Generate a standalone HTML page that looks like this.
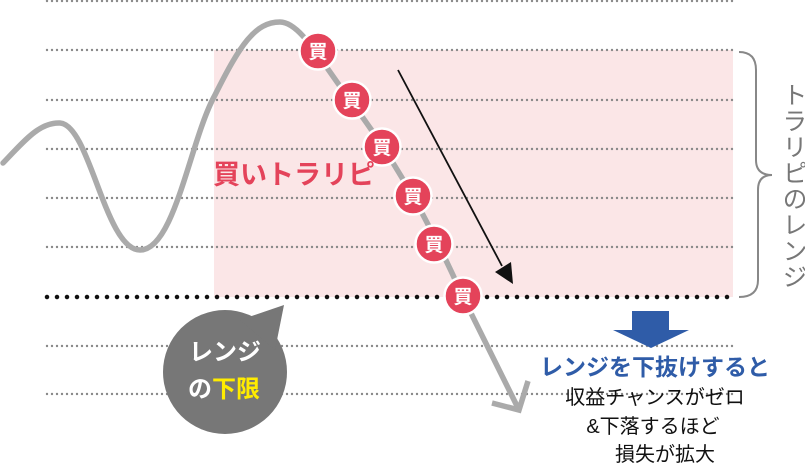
<!DOCTYPE html>
<html><head><meta charset="utf-8"><style>
html,body{margin:0;padding:0;background:#fff;}
svg{display:block;font-family:"Liberation Sans","Noto Sans CJK JP",sans-serif;}
</style></head><body>
<svg width="805" height="470" viewBox="0 0 805 470" xmlns="http://www.w3.org/2000/svg">
<rect x="214" y="50" width="519" height="247" fill="#fbe6e7"/>
<g stroke="#888" stroke-width="2.4" stroke-linecap="round" stroke-dasharray="0 5">
<line x1="47" y1="1" x2="733" y2="1"/>
<line x1="47" y1="50" x2="733" y2="50"/>
<line x1="47" y1="100" x2="733" y2="100"/>
<line x1="47" y1="149" x2="733" y2="149"/>
<line x1="47" y1="198" x2="733" y2="198"/>
<line x1="47" y1="247" x2="733" y2="247"/>
<line x1="47" y1="346" x2="733" y2="346"/>
<line x1="47" y1="394" x2="733" y2="394"/>
</g>
<line x1="47" y1="297" x2="735" y2="297" stroke="#111" stroke-width="4.5" stroke-linecap="round" stroke-dasharray="0 10"/>
<path d="M739,52 Q756,52 756,70 L756,160 Q756,175 772,175 Q758,175 758,190 L758,280 Q758,297 739,297" fill="none" stroke="#888" stroke-width="2"/>
<text x="793" y="82" font-size="25" fill="#777" writing-mode="tb" style="writing-mode:vertical-rl;letter-spacing:1px">トラリピのレンジ</text>
<path d="M3,163 C25,140 40,122 60,123 C90,125 105,250 140,250 C175,250 190,140 215,95 C240,45 255,22 280,22 C300,22 320,60 350,100 C380,140 420,200 462,295 L518,408" fill="none" stroke="#aaa" stroke-width="5.5" stroke-linecap="round"/>
<polyline points="492,403 519,410 528,381" fill="none" stroke="#aaa" stroke-width="5.5"/>
<line x1="398" y1="70" x2="502" y2="266" stroke="#111" stroke-width="1.8"/>
<polygon points="513,284 495,272 511,262" fill="#111"/>
<g fill="#e4435a" stroke="#fff" stroke-width="2.5">
<circle cx="318" cy="51" r="18.5"/>
<circle cx="352" cy="100" r="18.5"/>
<circle cx="382" cy="147" r="18.5"/>
<circle cx="413" cy="196" r="18.5"/>
<circle cx="434" cy="244" r="18.5"/>
<circle cx="463" cy="296" r="18.5"/>
</g>
<g fill="#fff" font-size="19" font-weight="bold" text-anchor="middle">
<text x="318" y="58">買</text>
<text x="352" y="107">買</text>
<text x="382" y="154">買</text>
<text x="413" y="203">買</text>
<text x="434" y="251">買</text>
<text x="463" y="303">買</text>
</g>
<text x="213" y="184" font-size="27" font-weight="bold" fill="#e4435a">買いトラリピ</text>
<circle cx="225" cy="372" r="62" fill="#777"/>
<polygon points="240,320 284,305 275,350" fill="#777"/>
<text x="225" y="360" font-size="24" font-weight="bold" fill="#fff" text-anchor="middle">レンジ</text>
<text x="188" y="397" font-size="24" font-weight="bold" fill="#fff">の<tspan fill="#ffec00">下限</tspan></text>
<rect x="632" y="311" width="37" height="20" fill="#2f5ca8"/>
<polygon points="613,330 689,330 651,348" fill="#2f5ca8"/>
<text x="655" y="375" font-size="23" font-weight="bold" fill="#2f5ca8" text-anchor="middle">レンジを下抜けすると</text>
<g font-size="20" fill="#111" text-anchor="middle">
<text x="655" y="404">収益チャンスがゼロ</text>
<text x="653" y="433">&amp;下落するほど</text>
<text x="665" y="461">損失が拡大</text>
</g>
</svg>
</body></html>
